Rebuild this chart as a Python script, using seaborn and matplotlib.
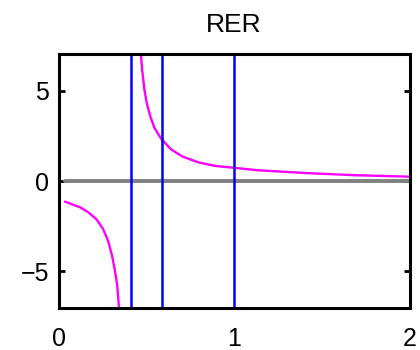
import matplotlib
matplotlib.use("Agg")
import matplotlib.pyplot as plt
import seaborn as sns
import pandas as pd

# RER curve, split at its pole into two branches
left_x = [0.035, 0.12, 0.167, 0.215, 0.252, 0.28, 0.303, 0.318, 0.333, 0.342, 0.347]
left_y = [-1.14, -1.45, -1.72, -2.12, -2.64, -3.28, -4.1, -4.84, -5.75, -6.85, -7.3]
right_x = [0.466, 0.475, 0.488, 0.501, 0.521, 0.545, 0.583, 0.64, 0.706, 0.8,
           0.894, 0.99, 1.14, 1.43, 1.69, 2.0]
right_y = [7.3, 6.18, 5.07, 4.34, 3.6, 2.95, 2.35, 1.75, 1.35, 1.02,
           0.83, 0.74, 0.59, 0.43, 0.32, 0.24]

# zero reference line
zero_x = [0.035, 2.0]
zero_y = [0.0, 0.0]

# vertical markers
marker_x = [0.41, 0.59, 1.0]

x_ticks = [0, 1, 2]
y_ticks = [-5, 0, 5]
title = "RER"

sns.set_theme(style="white")
plt.rcParams["font.family"] = ["Liberation Sans", "DejaVu Sans"]

fig = plt.figure(figsize=(4.2, 3.5), dpi=100)
ax = fig.add_axes([0.14, 0.1214, 0.835, 0.7229])

zero_df = pd.DataFrame({"x": zero_x, "y": zero_y})
sns.lineplot(data=zero_df, x="x", y="y", ax=ax, color="#808080", linewidth=2.8,
             estimator=None, sort=False)

curve_df = pd.concat([
    pd.DataFrame({"x": left_x, "y": left_y, "branch": "left"}),
    pd.DataFrame({"x": right_x, "y": right_y, "branch": "right"}),
])
sns.lineplot(data=curve_df, x="x", y="y", units="branch", estimator=None,
             sort=False, ax=ax, color="#ff00ff", linewidth=1.7)

for mx in marker_x:
    ax.axvline(mx, color="#0000ff", linewidth=1.8)

ax.set_xlim(0, 2)
ax.set_ylim(-7, 7)
ax.set_xticks(x_ticks)
ax.set_yticks(y_ticks)
ax.set_xticklabels([str(v) for v in x_ticks])
ax.set_yticklabels([str(v).replace("-", "\u2212") for v in y_ticks])
ax.set_xlabel("")
ax.set_ylabel("")

for spine in ax.spines.values():
    spine.set_visible(True)
    spine.set_color("black")
    spine.set_linewidth(2.2)

ax.tick_params(axis="y", direction="in", length=4, width=2, left=True, right=True,
               labelsize=18, pad=7, colors="black")
ax.tick_params(axis="x", length=0, labelsize=18, pad=14, colors="black")

ax.set_title(title, fontsize=19, pad=16, color="black")

fig.savefig("out.png", dpi=100)
